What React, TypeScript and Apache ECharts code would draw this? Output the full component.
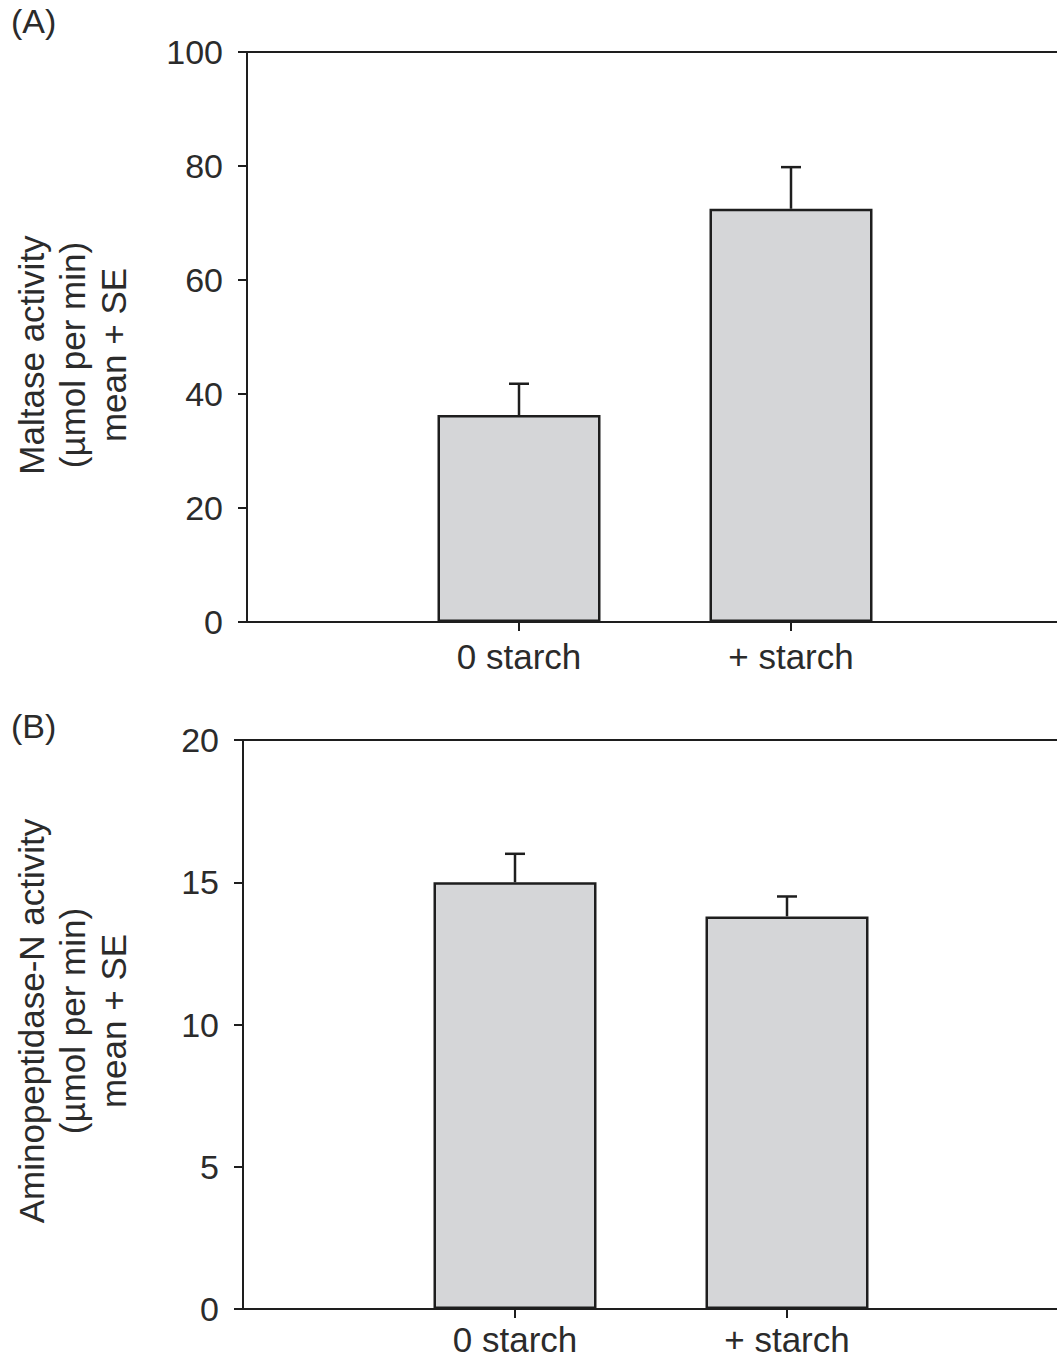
import React, { useEffect, useRef } from "react";
import * as echarts from "echarts";

const categories = ["", "0 starch", "+ starch", ""];
const maltaseMean = [36.3, 72.5];
const maltaseUpper = [41.8, 79.8];
const aminoMean = [15.0, 13.8];
const aminoUpper = [16.0, 14.5];
const maltaseTicks = [0, 100, 20];
const aminoTicks = [0, 20, 5];

const FONT = "'Liberation Sans', Arial, Helvetica, sans-serif";
const TXT = "#2b2b2b";
const LINE = "#1e1e1e";

function barData(vals: number[]) {
  return ["-", vals[0], vals[1], "-"];
}
function errData(mean: number[], upper: number[]) {
  return mean.map((m, i) => [i + 1, m, upper[i]]);
}

export default function App() {
  const ref = useRef<HTMLDivElement>(null);
  useEffect(() => {
    document.body.style.margin = "0";
    document.body.style.overflow = "hidden";
    document.documentElement.style.overflow = "hidden";
    const chart = echarts.init(ref.current!, null, { renderer: "svg" });
    const showIdx = (i: number) => i === 1 || i === 2;
    const xAxisBase = (gridIndex: number, margin: number) => ({
      type: "category",
      gridIndex,
      data: categories,
      boundaryGap: false,
      axisLine: { lineStyle: { color: LINE, width: 2 } },
      axisTick: { interval: showIdx, length: 9, lineStyle: { color: LINE, width: 2 } },
      axisLabel: { interval: showIdx, margin, fontSize: 35, color: TXT, fontFamily: FONT },
      splitLine: { show: false },
    });
    const yAxisBase = (gridIndex: number, t: number[]) => ({
      type: "value",
      gridIndex,
      min: t[0],
      max: t[1],
      interval: t[2],
      axisLine: { show: true, lineStyle: { color: LINE, width: 2 } },
      axisTick: { show: true, length: 9, lineStyle: { color: LINE, width: 2 } },
      axisLabel: { margin: 24, fontSize: 34, color: TXT, fontFamily: FONT },
      splitLine: { show: false },
    });
    const topAxis = (gridIndex: number) => ({
      type: "value",
      gridIndex,
      position: "top",
      min: 0,
      max: 1,
      axisLine: { show: true, lineStyle: { color: LINE, width: 2 } },
      axisTick: { show: false },
      axisLabel: { show: false },
      splitLine: { show: false },
    });
    const errSeries = (xi: number, yi: number, data: number[][]) => ({
      type: "custom",
      xAxisIndex: xi,
      yAxisIndex: yi,
      data,
      z: 1,
      renderItem: (params: any, api: any) => {
        const x = api.value(0);
        const p0 = api.coord([x, api.value(1)]);
        const p1 = api.coord([x, api.value(2)]);
        const half = 10;
        return {
          type: "group",
          children: [
            { type: "line", shape: { x1: p0[0], y1: p0[1], x2: p1[0], y2: p1[1] }, style: { stroke: LINE, lineWidth: 2.5 } },
            { type: "line", shape: { x1: p1[0] - half, y1: p1[1], x2: p1[0] + half, y2: p1[1] }, style: { stroke: LINE, lineWidth: 2.5 } },
          ],
        };
      },
    });
    const barSeries = (xi: number, yi: number, vals: number[]) => ({
      type: "bar",
      xAxisIndex: xi,
      yAxisIndex: yi,
      data: barData(vals),
      barWidth: 163,
      z: 2,
      itemStyle: { color: "#d5d6d8", borderColor: LINE, borderWidth: 2.5 },
    });
    const titleLines = (lines: string[], xs: number[], cy: number) =>
      lines.map((t, i) => ({
        type: "text",
        x: xs[i],
        y: cy,
        rotation: Math.PI / 2,
        style: { text: t, fill: TXT, font: `35px ${FONT}`, textAlign: "center", textVerticalAlign: "middle" },
      }));
    chart.setOption({
      animation: false,
      grid: [
        { left: 247, top: 52, width: 816, height: 570 },
        { left: 243, top: 740, width: 816, height: 571 },
      ],
      xAxis: [xAxisBase(0, 17), xAxisBase(1, 13), topAxis(0), topAxis(1)],
      yAxis: [yAxisBase(0, maltaseTicks), yAxisBase(1, aminoTicks)],
      series: [
        barSeries(0, 0, maltaseMean),
        errSeries(0, 0, errData(maltaseMean, maltaseUpper)),
        barSeries(1, 1, aminoMean),
        errSeries(1, 1, errData(aminoMean, aminoUpper)),
      ],
      graphic: [
        { type: "text", x: 11, y: 4, style: { text: "(A)", fill: TXT, font: `34px ${FONT}` } },
        { type: "text", x: 11, y: 709, style: { text: "(B)", fill: TXT, font: `34px ${FONT}` } },
        ...titleLines(["Maltase activity", "(µmol per min)", "mean + SE"], [31, 72, 113], 355),
        ...titleLines(["Aminopeptidase-N activity", "(µmol per min)", "mean + SE"], [31, 72, 113], 1021),
      ],
    });
    return () => chart.dispose();
  }, []);
  return <div ref={ref} style={{ width: 1070, height: 1357 }} />;
}
